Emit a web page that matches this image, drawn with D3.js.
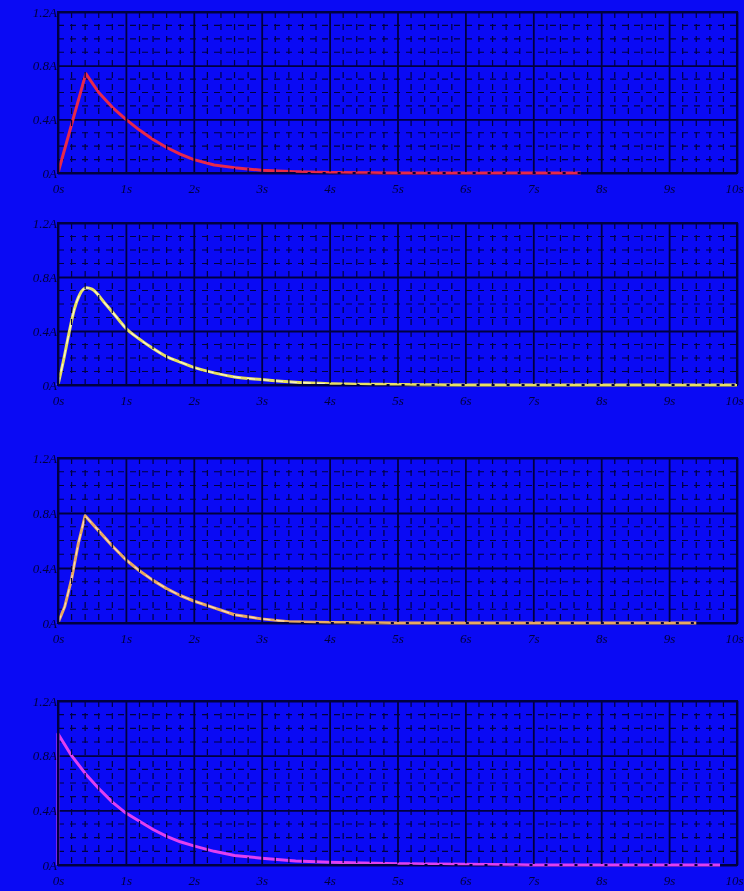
<!DOCTYPE html>
<html>
<head>
<meta charset="utf-8">
<script src="https://cdn.jsdelivr.net/npm/d3@7"></script>
<style>
  html, body { margin: 0; padding: 0; background: #0a0af4; }
  svg { display: block; filter: blur(0.5px); }
  .tick-label { font-family: "Liberation Serif", serif; font-style: italic; font-size: 13px; fill: #00003c; }
</style>
</head>
<body>
<svg id="chart" width="744" height="891"></svg>
<script>
'use strict';

// tick labels
var xTicks = [0, 1, 2, 3, 4, 5, 6, 7, 8, 9, 10];
var xTickLabels = ['0s', '1s', '2s', '3s', '4s', '5s', '6s', '7s', '8s', '9s', '10s'];
var yTicks = [0, 0.4, 0.8, 1.2];
var yTickLabels = ['0A', '0.4A', '0.8A', '1.2A'];

// series 1 (red)
var time1 = [0, 0.41, 0.6, 0.8, 1.0, 1.2, 1.4, 1.6, 1.8, 2.0, 2.3, 2.6, 3.0, 3.5, 4.0, 5.0, 6.0, 7.0, 7.7];
var current1 = [0, 0.74, 0.6, 0.49, 0.4, 0.32, 0.25, 0.19, 0.14, 0.1, 0.06, 0.04, 0.02, 0.01, 0.004, 0, 0, 0, 0];

// series 2 (yellow)
var time2 = [0, 0.08, 0.16, 0.24, 0.32, 0.42, 0.5, 0.7, 0.9, 1.0, 1.2, 1.4, 1.6, 1.8, 2.0, 2.3, 2.6, 3.0, 3.5, 4.0, 5, 6, 7, 8, 9, 10];
var current2 = [0, 0.18, 0.38, 0.56, 0.67, 0.72, 0.71, 0.6, 0.48, 0.42, 0.34, 0.27, 0.21, 0.17, 0.13, 0.09, 0.06, 0.04, 0.02, 0.01, 0.004, 0, 0, 0, 0, 0];

// series 3 (orange)
var time3 = [0, 0.1, 0.2, 0.3, 0.4, 0.6, 0.8, 1.0, 1.2, 1.4, 1.6, 1.8, 2.0, 2.3, 2.6, 3.0, 3.4, 4, 5, 6, 7, 8, 9, 9.4];
var current3 = [0, 0.12, 0.32, 0.58, 0.78, 0.67, 0.56, 0.46, 0.38, 0.31, 0.25, 0.2, 0.16, 0.11, 0.06, 0.03, 0.01, 0.004, 0, 0, 0, 0, 0, 0];

// series 4 (magenta)
var time4 = [0, 0, 0.2, 0.4, 0.6, 0.8, 1.0, 1.2, 1.4, 1.6, 1.8, 2.0, 2.3, 2.6, 3.0, 3.5, 4, 5, 6, 7, 8, 9, 9.75];
var current4 = [0, 0.96, 0.8, 0.67, 0.56, 0.46, 0.38, 0.32, 0.26, 0.21, 0.17, 0.14, 0.1, 0.07, 0.05, 0.03, 0.02, 0.01, 0.005, 0, 0, 0, 0];

var panels = [
  {time: time1, current: current1, color: '#e8284a', top: 12, bottom: 173, curve: d3.curveLinear, highlight: null},
  {time: time2, current: current2, color: '#e8e060', top: 223, bottom: 385, curve: d3.curveMonotoneX, highlight: '#ffffff'},
  {time: time3, current: current3, color: '#e8a860', top: 458, bottom: 623, curve: d3.curveLinear, highlight: '#fff0e0'},
  {time: time4, current: current4, color: '#e040f0', top: 701, bottom: 865, curve: d3.curveLinear, highlight: null}
];

var plotLeft = 58;
var plotRight = 737;
var gridColor = '#000040';

var svg = d3.select('#chart');

var x = d3.scaleLinear().domain([0, 10]).range([plotLeft, plotRight]);

panels.forEach(function (panel) {
  var y = d3.scaleLinear().domain([0, 1.2]).range([panel.bottom, panel.top]);
  var g = svg.append('g');

  var minorX = d3.range(0, 10.001, 0.2).filter(function (v) { return Math.abs(v - Math.round(v)) > 0.01; });
  var minorY = d3.range(0, 1.2001, 0.1).filter(function (v) { return Math.abs(v * 2.5 - Math.round(v * 2.5)) > 0.01; });

  // horizontal grid under the curve
  g.selectAll('.minor-y')
    .data(minorY)
    .enter()
    .append('line')
    .attr('x1', plotLeft)
    .attr('x2', plotRight)
    .attr('y1', function (d) { return y(d); })
    .attr('y2', function (d) { return y(d); })
    .attr('stroke', gridColor)
    .attr('stroke-width', 1.2)
    .attr('stroke-dasharray', '6,6');

  var yAxis = d3.axisLeft(y)
    .tickValues(yTicks)
    .tickSize(-(plotRight - plotLeft))
    .tickFormat(function (d, i) { return yTickLabels[i]; });

  var yg = g.append('g')
    .attr('transform', 'translate(' + plotLeft + ',0)')
    .call(yAxis);
  yg.select('.domain').remove();
  yg.selectAll('.tick line').attr('stroke', gridColor).attr('stroke-width', 1.8);
  yg.selectAll('.tick text')
    .attr('class', 'tick-label')
    .attr('x', -1);

  // curve
  var data = panel.time.map(function (t, i) { return [t, panel.current[i]]; });
  var line = d3.line()
    .x(function (d) { return x(d[0]); })
    .y(function (d) { return y(d[1]); })
    .curve(panel.curve);

  g.append('path')
    .attr('d', line(data))
    .attr('fill', 'none')
    .attr('stroke', panel.color)
    .attr('stroke-width', 3)
    .attr('stroke-linejoin', 'round');

  if (panel.highlight) {
    g.append('path')
      .attr('d', line(data))
      .attr('fill', 'none')
      .attr('stroke', panel.highlight)
      .attr('stroke-width', 1.2)
      .attr('stroke-opacity', 0.7)
      .attr('stroke-dasharray', '8,6');
  }

  // vertical grid over the curve
  g.selectAll('.minor-x')
    .data(minorX)
    .enter()
    .append('line')
    .attr('x1', function (d) { return x(d); })
    .attr('x2', function (d) { return x(d); })
    .attr('y1', panel.top)
    .attr('y2', panel.bottom)
    .attr('stroke', gridColor)
    .attr('stroke-width', 1.2)
    .attr('stroke-dasharray', '6,6');

  var xAxis = d3.axisBottom(x)
    .tickValues(xTicks)
    .tickSize(-(panel.bottom - panel.top))
    .tickFormat(function (d, i) { return xTickLabels[i]; });

  var xg = g.append('g')
    .attr('transform', 'translate(0,' + panel.bottom + ')')
    .call(xAxis);
  xg.select('.domain').remove();
  xg.selectAll('.tick line').attr('stroke', gridColor).attr('stroke-width', 1.8);
  xg.selectAll('.tick text')
    .attr('class', 'tick-label')
    .attr('y', 11)
    .attr('dy', '0.71em');
  xg.selectAll('.tick text')
    .filter(function (d) { return d === 10; })
    .attr('text-anchor', 'end')
    .attr('x', 6);

  // frame
  g.append('rect')
    .attr('x', plotLeft)
    .attr('y', panel.top)
    .attr('width', plotRight - plotLeft)
    .attr('height', panel.bottom - panel.top)
    .attr('fill', 'none')
    .attr('stroke', gridColor)
    .attr('stroke-width', 2);

  // keep the flat tail of the curve visible over the frame
  var tail = data.filter(function (d) { return d[0] > 1 && d[1] < 0.02; });
  g.append('path')
    .attr('d', line(tail))
    .attr('fill', 'none')
    .attr('stroke', panel.color)
    .attr('stroke-width', 2)
    .attr('stroke-dasharray', '12,3');
});
</script>
</body>
</html>
